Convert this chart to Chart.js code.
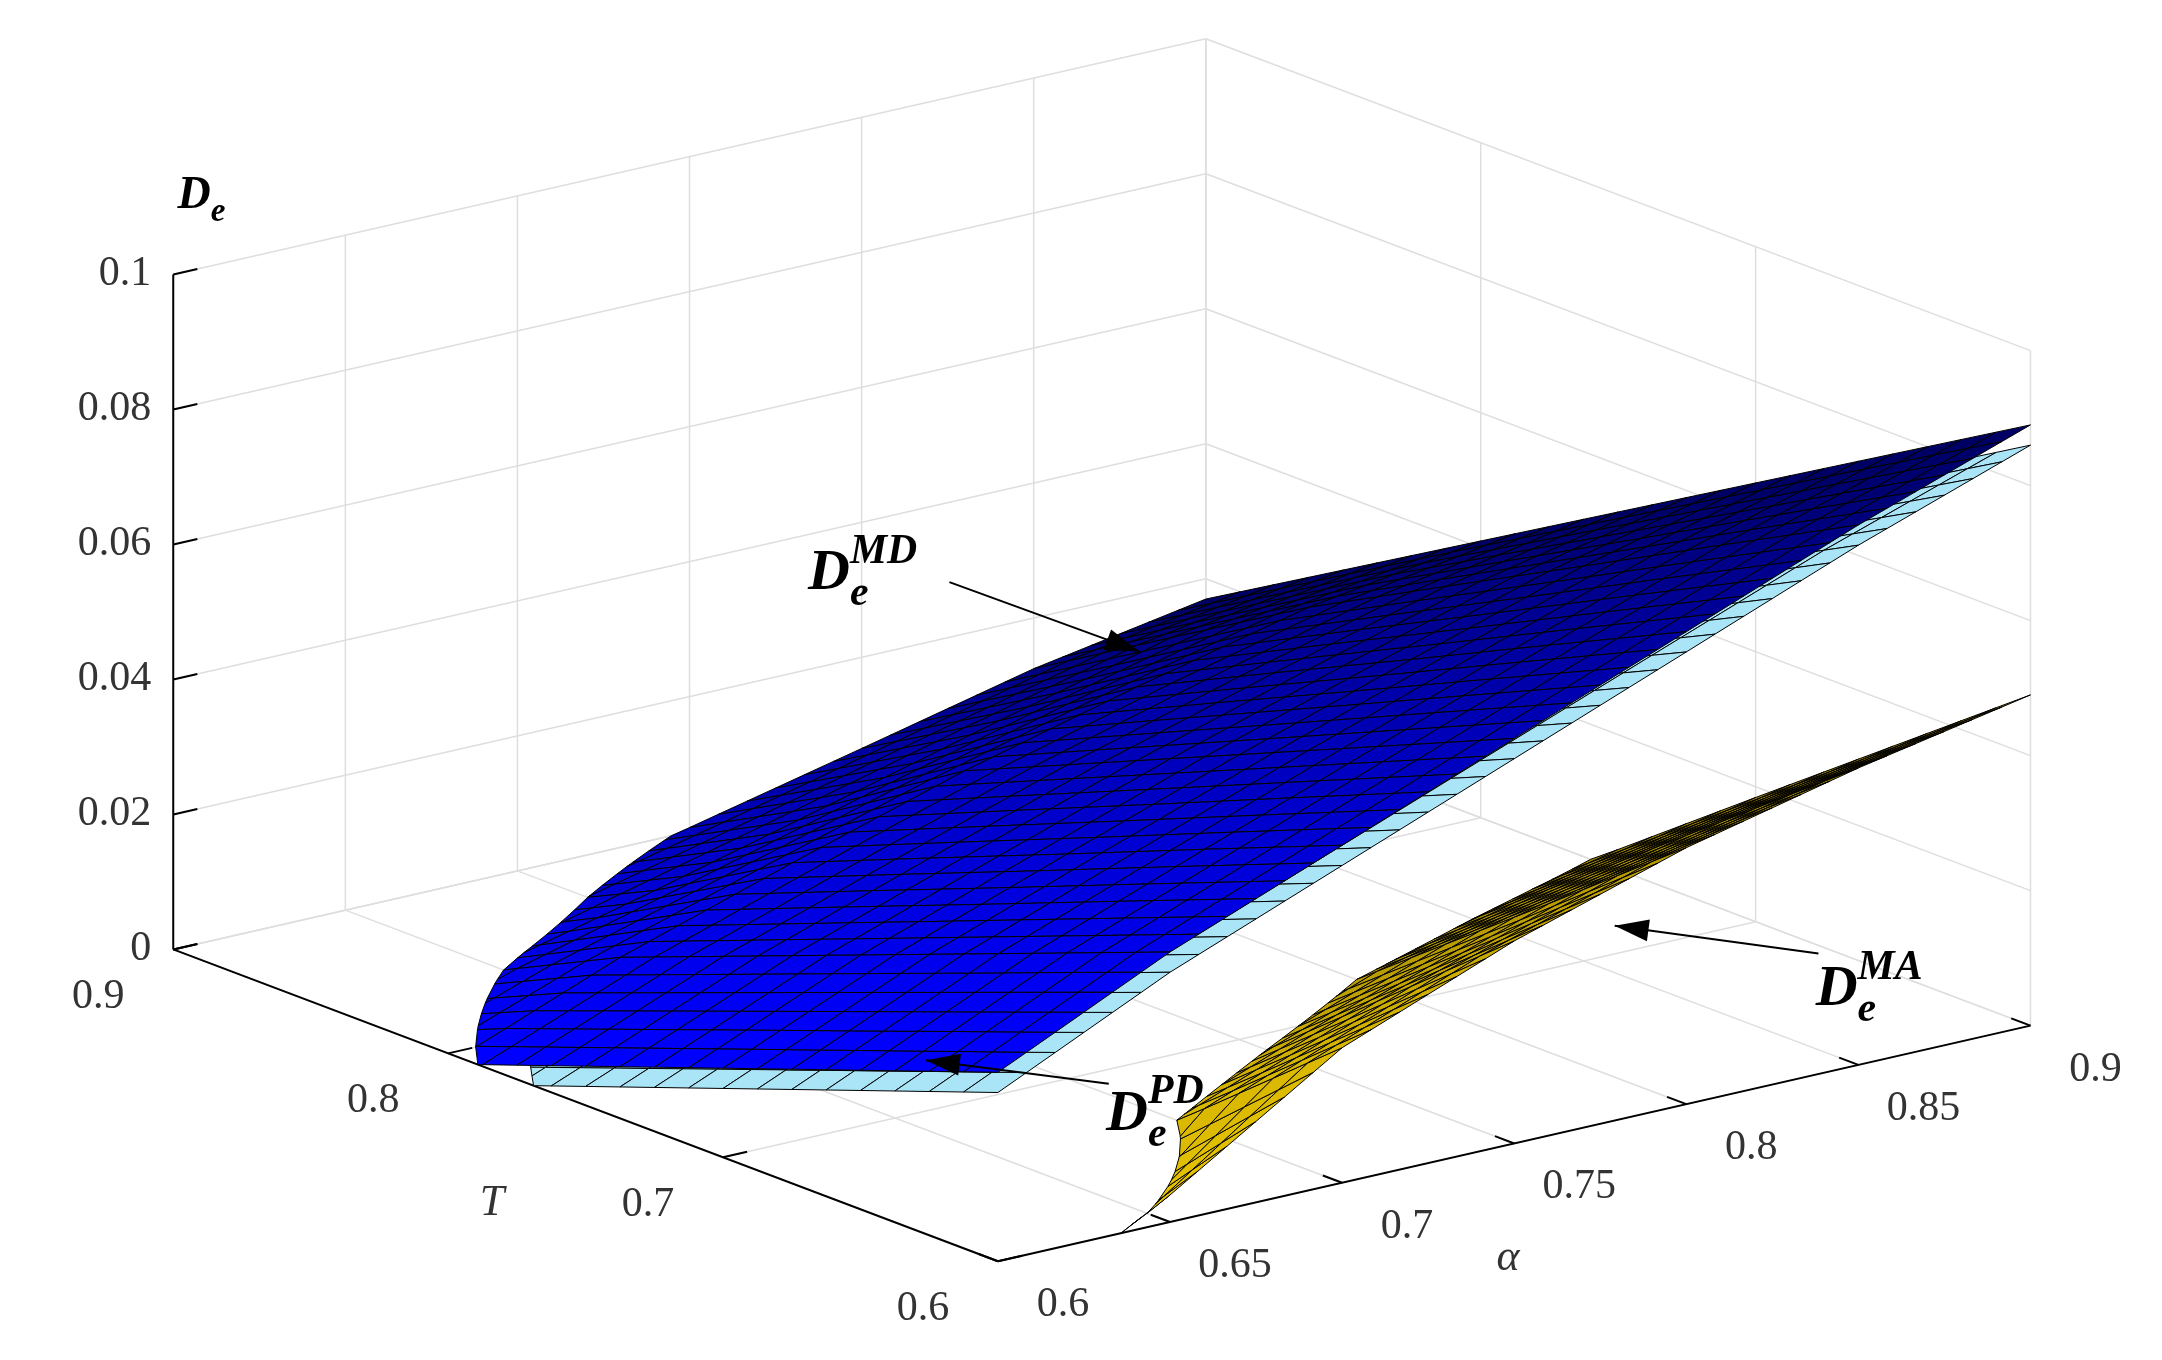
<html>
<head>
<script src="https://cdn.jsdelivr.net/npm/chart.js"></script>
<style>body{margin:0;background:#fff}</style>
</head>
<body>
<canvas id="c" width="2162" height="1360"></canvas>
<script>
// axis ticks
const alphaTicks = [0.6, 0.65, 0.7, 0.75, 0.8, 0.85, 0.9];
const tTicks = [0.6, 0.7, 0.8, 0.9];
const dTicks = [0, 0.02, 0.04, 0.06, 0.08, 0.1];
const dTickLabels = ['0', '0.02', '0.04', '0.06', '0.08', '0.1'];

// surface grid (rows: T, cols: alpha) (negative = below floor, not drawn)
const gridAlpha = [0.6, 0.65, 0.7, 0.75, 0.8, 0.85, 0.9];
const gridT = [0.6, 0.65, 0.7, 0.75, 0.8, 0.85, 0.9];
const dMD = [
  [0.028, 0.040, 0.050, 0.060, 0.070, 0.080, 0.089],
  [0.0206, 0.0321, 0.0417, 0.0511, 0.0603, 0.0693, 0.077],
  [0.0132, 0.0242, 0.0333, 0.0422, 0.0505, 0.0585, 0.065],
  [0.0058, 0.0163, 0.025, 0.0333, 0.0408, 0.0478, 0.053],
  [-0.0016, 0.0084, 0.0166, 0.0244, 0.031, 0.037, 0.041],
  [-0.0094, -0.0015, 0.0048, 0.0115, 0.0183, 0.0248, 0.029],
  [-0.0164, -0.0124, -0.005, 0.0006, 0.0065, 0.0125, 0.017]
];
const dPD = [
  [0.025, 0.037, 0.047, 0.057, 0.067, 0.077, 0.086],
  [0.0176, 0.0291, 0.0387, 0.0481, 0.0573, 0.0663, 0.074],
  [0.0102, 0.0212, 0.0303, 0.0392, 0.0475, 0.0555, 0.062],
  [0.0028, 0.0133, 0.022, 0.0303, 0.0378, 0.0448, 0.05],
  [-0.0046, 0.0054, 0.0136, 0.0214, 0.028, 0.034, 0.038],
  [-0.0124, -0.0045, 0.0018, 0.0085, 0.0153, 0.0218, 0.026],
  [-0.0194, -0.0154, -0.008, -0.0024, 0.0035, 0.0095, 0.014]
];
const dMA = [
  [-0.01, 0.004, 0.02, 0.03, 0.038, 0.044, 0.049],
  [-0.03, -0.02, 0.0033, 0.0133, 0.022, 0.0283, 0.0337],
  [-0.06, -0.04, -0.013, -0.0033, 0.0063, 0.0126, 0.0184],
  [-0.09, -0.07, -0.03, -0.02, -0.0095, -0.003, 0.003],
  [-0.12, -0.1, -0.05, -0.035, -0.025, -0.02, -0.012],
  [-0.15, -0.13, -0.07, -0.05, -0.04, -0.035, -0.03],
  [-0.2, -0.16, -0.09, -0.07, -0.06, -0.05, -0.045]
];

// view
const S = 1.386;
const FRONT = [720, 910], LEFT = [125, 685], RIGHT = [1465, 740], DPX = 487;
function proj(al, T, D) {
  const a = (al - 0.6) / 0.3, t = (T - 0.6) / 0.3;
  return [(FRONT[0] + t * (LEFT[0] - FRONT[0]) + a * (RIGHT[0] - FRONT[0])) * S,
          (FRONT[1] + t * (LEFT[1] - FRONT[1]) + a * (RIGHT[1] - FRONT[1]) - D / 0.1 * DPX) * S];
}

function clipPoly(p) {
  const out = [];
  for (let i = 0; i < p.length; i++) {
    const A = p[i], B = p[(i + 1) % p.length];
    const ina = A[2] >= 0, inb = B[2] >= 0;
    if (ina) out.push(A);
    if (ina !== inb) {
      const f = A[2] / (A[2] - B[2]);
      out.push([A[0] + f * (B[0] - A[0]), A[1] + f * (B[1] - A[1]), 0]);
    }
  }
  return out;
}

function buildQuads(grid, colorFn, bias) {
  const quads = [], NA = 6, NT = 4;
  for (let i = 0; i < gridT.length - 1; i++) {
    for (let j = 0; j < gridAlpha.length - 1; j++) {
      const z00 = grid[i][j], z01 = grid[i][j + 1], z10 = grid[i + 1][j], z11 = grid[i + 1][j + 1];
      for (let u = 0; u < NA; u++) for (let v = 0; v < NT; v++) {
        const corner = (uu, vv) => {
          const fu = uu / NA, fv = vv / NT;
          const z = z00 * (1 - fu) * (1 - fv) + z01 * fu * (1 - fv) + z10 * (1 - fu) * fv + z11 * fu * fv;
          return [gridAlpha[j] + fu * 0.05, gridT[i] + fv * 0.05, z];
        };
        const poly = clipPoly([corner(u, v), corner(u + 1, v), corner(u + 1, v + 1), corner(u, v + 1)]);
        if (poly.length < 3) continue;
        const c = corner(u + 0.5, v + 0.5);
        const a = (c[0] - 0.6) / 0.3, t = (c[1] - 0.6) / 0.3;
        quads.push({ poly, color: colorFn(a, t), depth: a + t - Math.max(c[2], 0) / 0.1 * 1.5 + bias });
      }
    }
  }
  return quads;
}

const surfacePlugin = {
  id: 'surface3d',
  afterDraw(chart) {
    const ctx = chart.ctx, sx = chart.scales.x, sy = chart.scales.y;
    const P = (al, T, D) => { const q = proj(al, T, D); return [sx.getPixelForValue(q[0]), sy.getPixelForValue(q[1])]; };
    const line = (p, q, col, w) => { ctx.strokeStyle = col; ctx.lineWidth = w; ctx.beginPath(); ctx.moveTo(p[0], p[1]); ctx.lineTo(q[0], q[1]); ctx.stroke(); };
    const grey = '#dedede';
    // floor + back walls
    alphaTicks.forEach(a => { line(P(a, 0.6, 0), P(a, 0.9, 0), grey, 1.5); line(P(a, 0.9, 0), P(a, 0.9, 0.1), grey, 1.5); });
    tTicks.forEach(t => { line(P(0.6, t, 0), P(0.9, t, 0), grey, 1.5); line(P(0.9, t, 0), P(0.9, t, 0.1), grey, 1.5); });
    dTicks.forEach(d => { line(P(0.6, 0.9, d), P(0.9, 0.9, d), grey, 1.5); line(P(0.9, 0.6, d), P(0.9, 0.9, d), grey, 1.5); });
    // axes
    line(P(0.6, 0.9, 0), P(0.6, 0.9, 0.1), '#000', 2);
    line(P(0.6, 0.6, 0), P(0.6, 0.9, 0), '#000', 2);
    line(P(0.6, 0.6, 0), P(0.9, 0.6, 0), '#000', 2);
    dTicks.forEach(d => line(P(0.6, 0.9, d), P(0.607, 0.9, d), '#000', 2));
    tTicks.forEach(t => line(P(0.6, t, 0), P(0.607, t, 0), '#000', 2));
    alphaTicks.forEach(a => line(P(a, 0.6, 0), P(a, 0.607, 0), '#000', 2));

    // surfaces
    const blue = (a, t) => { const b = 1 - 0.62 * Math.pow(a, 1.2); return `rgb(0,0,${Math.round(255 * b)})`; };
    const cyan = () => '#a9e5f7';
    const yellow = (a, t) => { const b = 1 - 0.4 * a; return `rgb(${Math.round(250 * b)},${Math.round(212 * b)},0)`; };
    const quads = [].concat(buildQuads(dPD, cyan, 0.02), buildQuads(dMD, blue, 0), buildQuads(dMA, yellow, 0));
    quads.sort((p, q) => q.depth - p.depth);
    ctx.lineWidth = 1; ctx.strokeStyle = '#000';
    quads.forEach(q => {
      ctx.beginPath();
      q.poly.forEach((v, k) => { const p = P(v[0], v[1], v[2]); k ? ctx.lineTo(p[0], p[1]) : ctx.moveTo(p[0], p[1]); });
      ctx.closePath(); ctx.fillStyle = q.color; ctx.fill(); ctx.stroke();
    });

    // tick labels
    ctx.fillStyle = '#333'; ctx.font = '42px "Liberation Serif"'; ctx.textBaseline = 'middle';
    ctx.textAlign = 'right';
    dTicks.forEach((d, k) => { const p = P(0.6, 0.9, d); ctx.fillText(dTickLabels[k], p[0] - 22, p[1]); });
    ctx.textAlign = 'center';
    tTicks.forEach(t => { const p = P(0.6, t, 0); ctx.fillText(String(t), p[0] - 75, p[1] + 48); });
    alphaTicks.forEach(a => { const p = P(a, 0.6, 0); ctx.fillText(String(a), p[0] + 65, p[1] + 44); });
    ctx.font = 'italic 44px "Liberation Serif"';
    ctx.fillText('T', 355 * S, 868 * S);
    ctx.fillText('\u03b1', 1088 * S, 908 * S);

    // symbols
    const sym = (x, y, sup, big) => {
      ctx.fillStyle = '#000'; ctx.textAlign = 'left'; ctx.textBaseline = 'alphabetic';
      ctx.font = `bold italic ${big}px "Liberation Serif"`;
      ctx.fillText('D', x, y);
      const w = ctx.measureText('D').width;
      ctx.font = `bold italic ${big * 0.72}px "Liberation Serif"`;
      ctx.fillText('e', x + w, y + big * 0.28);
      if (sup) ctx.fillText(sup, x + w, y - big * 0.45);
    };
    sym(128 * S, 150 * S, '', 46);
    sym(583 * S, 425 * S, 'MD', 58);
    sym(798 * S, 815 * S, 'PD', 58);
    sym(1310 * S, 725 * S, 'MA', 58);

    const arrow = (x1, y1, x2, y2) => {
      x1 *= S; y1 *= S; x2 *= S; y2 *= S;
      line([x1, y1], [x2, y2], '#000', 2);
      const ang = Math.atan2(y2 - y1, x2 - x1), L = 34, Wd = 11;
      ctx.fillStyle = '#000'; ctx.beginPath();
      ctx.moveTo(x2, y2);
      ctx.lineTo(x2 - L * Math.cos(ang) + Wd * Math.sin(ang), y2 - L * Math.sin(ang) - Wd * Math.cos(ang));
      ctx.lineTo(x2 - L * Math.cos(ang) - Wd * Math.sin(ang), y2 - L * Math.sin(ang) + Wd * Math.cos(ang));
      ctx.closePath(); ctx.fill();
    };
    arrow(685, 420, 822, 470);
    arrow(800, 782, 668, 765);
    arrow(1312, 688, 1165, 668);
  }
};

new Chart(document.getElementById('c').getContext('2d'), {
  type: 'scatter',
  data: { datasets: [] },
  options: {
    responsive: false, animation: false, devicePixelRatio: 1,
    layout: { padding: 0 },
    plugins: { legend: { display: false }, tooltip: { enabled: false } },
    scales: {
      x: { type: 'linear', min: 0, max: 2162, display: false },
      y: { type: 'linear', min: 0, max: 1360, reverse: true, display: false }
    }
  },
  plugins: [surfacePlugin]
});
</script>
</body>
</html>
